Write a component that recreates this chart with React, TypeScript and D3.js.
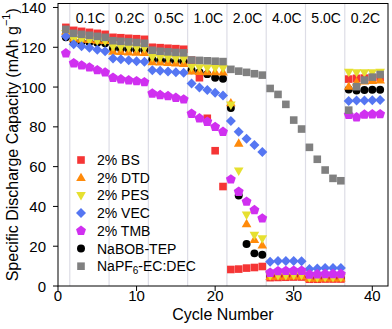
import React from 'react';
import * as d3 from 'd3';

// cycle numbers and rate steps
const cycles = [1, 2, 3, 4, 5, 6, 7, 8, 9, 10, 11, 12, 13, 14, 15, 16, 17, 18, 19, 20, 21, 22, 23, 24, 25, 26, 27, 28, 29, 30, 31, 32, 33, 34, 35, 36, 37, 38, 39, 40, 41];
const rateLabels = ['0.1C', '0.2C', '0.5C', '1.0C', '2.0C', '4.0C', '5.0C', '0.2C'];
const rateEdges = [1.5, 6.5, 11.5, 16.5, 21.5, 26.5, 31.5, 36.5, 41.5];
const yTicks = [0, 20, 40, 60, 80, 100, 120, 140];
const xTicks = [0, 10, 20, 30, 40];

// discharge capacity (mAh/g) per cycle
const bs = [130, 128.5, 128, 127.5, 127, 126.5, 125, 124.8, 124.5, 124.3, 124, 120, 119.8, 119.5, 119.3, 119, 113.5, 104.7, 84.3, 68, 50, 8.3, 8.5, 9, 9.3, 9.8, 4.2, 4.3, 4.4, 4.5, 4.5, 3.4, 3.4, 3.5, 3.5, 3.5, 104, 104.4, 104.5, 104.6, 104.8];
const dtd = [128, 124.5, 124, 123.8, 123.5, 123.3, 118, 117.8, 117.6, 117.5, 117.3, 112.7, 112.5, 112.3, 112, 111.8, 108, 107.8, 107.7, 107.6, 107.5, 92, 71.7, 31.3, 23.3, 20.5, 4.7, 4.8, 4.9, 5, 5, 3.9, 3.9, 4, 4, 4, 100.3, 102.5, 103, 103.3, 103.5];
const pes = [127, 124, 123.7, 123.5, 123.2, 123, 120.3, 120, 119.8, 119.6, 119.5, 115, 114.7, 114.5, 114.2, 114, 110, 109.8, 109.6, 109.5, 109.4, 91, 57.8, 35.7, 25.5, 23.8, 5.2, 5.3, 5.3, 5.4, 5.4, 4.2, 4.2, 4.3, 4.3, 4.3, 107.5, 107.3, 107.2, 107.3, 107.5];
const vec = [125.5, 121.5, 120.5, 119.7, 118.8, 118, 114.4, 114, 113.5, 113, 112.7, 108.5, 108.2, 107.8, 107.5, 107.2, 101.8, 99.8, 98.5, 97.1, 95.8, 83, 77.5, 74, 70.9, 67.3, 12.2, 12.6, 12.6, 12.6, 12.4, 8.5, 8.8, 9, 9, 9, 93, 93.2, 93.3, 93.4, 93.5];
const tmb = [117, 112, 110.9, 109.9, 108.5, 107.4, 104.7, 103.9, 103.4, 103, 102.5, 96.8, 96, 95.5, 94.6, 93.8, 86.6, 84.3, 82.6, 80, 77.5, 53.6, 47.4, 42.4, 38.2, 34, 6.7, 7.5, 7.6, 7.7, 7.7, 5.8, 5.9, 6, 6, 6, 86, 84.8, 86.2, 86.3, 86.4];
const nabob = [125, 123, 122.8, 122.5, 122.3, 122, 119.4, 119.2, 119, 118.8, 118.6, 113.8, 113.5, 113.3, 113, 112.8, 108.5, 107.5, 106.5, 104.7, 104.2, 89.5, 45.5, 21.1, 16.4, 15.7, 5, 5, 5, 5, 5, 4, 4, 4, 4, 4, 98.8, 98.3, 98.5, 98.6, 98.7];
const napf6 = [129, 127, 126.5, 126, 125.5, 125, 123.3, 123, 122.7, 122.4, 122, 118.5, 118, 117.7, 117.4, 117.2, 113.6, 113.4, 113.2, 113, 112.8, 108.9, 108, 107.4, 106.7, 106, 99.3, 96.3, 91.3, 83.4, 78.9, 69.7, 63.7, 58.3, 54.1, 52.9, 88.4, 100.2, 103.5, 105, 106.3];

const series = [
  { key: 'bs', label: '2% BS', values: bs, color: '#f53535', shape: 'square' },
  { key: 'dtd', label: '2% DTD', values: dtd, color: '#ff8a0a', shape: 'triUp' },
  { key: 'pes', label: '2% PES', values: pes, color: '#e6e030', shape: 'triDown' },
  { key: 'vec', label: '2% VEC', values: vec, color: '#5576f2', shape: 'diamond' },
  { key: 'tmb', label: '2% TMB', values: tmb, color: '#d030f0', shape: 'pentagon' },
  { key: 'nabob', label: 'NaBOB-TEP', values: nabob, color: '#000000', shape: 'circle' },
  { key: 'napf6', label: 'NaPF6-EC:DEC', values: napf6, color: '#808080', shape: 'square' },
];
const drawOrder = ['nabob', 'bs', 'dtd', 'pes', 'vec', 'tmb', 'napf6'];

const poly = (pts: number[][]) => 'M' + pts.map(p => p.join(',')).join('L') + 'Z';

const markerPath = (shape: string) => {
  switch (shape) {
    case 'square':
      return poly([[-3.8, -3.8], [3.8, -3.8], [3.8, 3.8], [-3.8, 3.8]]);
    case 'triUp':
      return poly([[0, -5], [4.8, 3.4], [-4.8, 3.4]]);
    case 'triDown':
      return poly([[0, 5], [4.8, -3.4], [-4.8, -3.4]]);
    case 'diamond':
      return poly([[0, -5], [5, 0], [0, 5], [-5, 0]]);
    case 'pentagon':
      return poly(d3.range(5).map(i => {
        const a = -Math.PI / 2 + i * 2 * Math.PI / 5;
        return [5.2 * Math.cos(a), 5.2 * Math.sin(a)];
      }));
    default:
      return d3.symbol(d3.symbolCircle, 50)() as string;
  }
};

const width = 392;
const height = 329;
const font = 'Arial, "Liberation Sans", sans-serif';

const App = () => {
  const x = d3.scaleLinear().domain([0, 42]).range([58, 388]);
  const y = d3.scaleLinear().domain([0, 142]).range([286, 3.5]);
  const [x0, x1] = x.range();
  const [yb, yt] = y.range();

  const legendX = 81;
  const legendY0 = 160;
  const legendStep = 17.7;

  return (
    <svg width={width} height={height} style={{ position: 'absolute', left: 0, top: 0, background: '#fff' }} fontFamily={font}>
      {/* rate step separators */}
      {rateEdges.slice(0, -1).map((e, i) => (
        <line key={'g' + i} x1={x(e)} x2={x(e)} y1={yt} y2={yb} stroke="#dddde6" strokeWidth={1.2} />
      ))}
      {rateLabels.map((l, i) => (
        <text key={'r' + i} x={x((rateEdges[i] + rateEdges[i + 1]) / 2) + 1} y={17.5} fontSize={14} textAnchor="middle" dominantBaseline="central">{l}</text>
      ))}

      {/* data */}
      {drawOrder.map(k => {
        const s = series.find(d => d.key === k)!;
        const p = markerPath(s.shape);
        return (
          <g key={k} fill={s.color}>
            {s.values.map((v, i) => (
              <path key={i} d={p} transform={`translate(${x(cycles[i])},${y(v)})`} />
            ))}
          </g>
        );
      })}

      {/* frame */}
      <rect x={x0} y={yt} width={x1 - x0} height={yb - yt} fill="none" stroke="#000" strokeWidth={1} />

      {/* y axis */}
      {yTicks.map(t => (
        <g key={'y' + t}>
          <line x1={x0 - 5} x2={x0} y1={y(t)} y2={y(t)} stroke="#000" />
          <text x={x0 - 12} y={y(t)} fontSize={15} textAnchor="end" dominantBaseline="central">{t}</text>
        </g>
      ))}
      {/* x axis */}
      {xTicks.map(t => (
        <g key={'x' + t}>
          <line x1={x(t)} x2={x(t)} y1={yb} y2={yb + 5} stroke="#000" />
          <text x={x(t)} y={yb + 9} fontSize={15} textAnchor="middle" dominantBaseline="central">{t}</text>
        </g>
      ))}
      <text x={(x0 + x1) / 2} y={314} fontSize={16} textAnchor="middle" dominantBaseline="central">Cycle Number</text>
      <text transform={`translate(12,${(yt + yb) / 2}) rotate(-90)`} fontSize={16} textAnchor="middle" dominantBaseline="central">
        Specific Discharge Capacity (mAh g<tspan fontSize={11} dy={-6}>−1</tspan><tspan dy={6}>)</tspan>
      </text>

      {/* legend */}
      {series.map((s, i) => {
        const ly = legendY0 + i * legendStep;
        return (
          <g key={'l' + s.key}>
            <path d={markerPath(s.shape)} transform={`translate(${legendX},${ly})`} fill={s.color} />
            <text x={97} y={ly} fontSize={14} dominantBaseline="central">
              {s.key === 'napf6' ? (
                <>NaPF<tspan fontSize={10} dy={4}>6</tspan><tspan dy={-4}>-EC:DEC</tspan></>
              ) : s.label}
            </text>
          </g>
        );
      })}
    </svg>
  );
};

export default App;
